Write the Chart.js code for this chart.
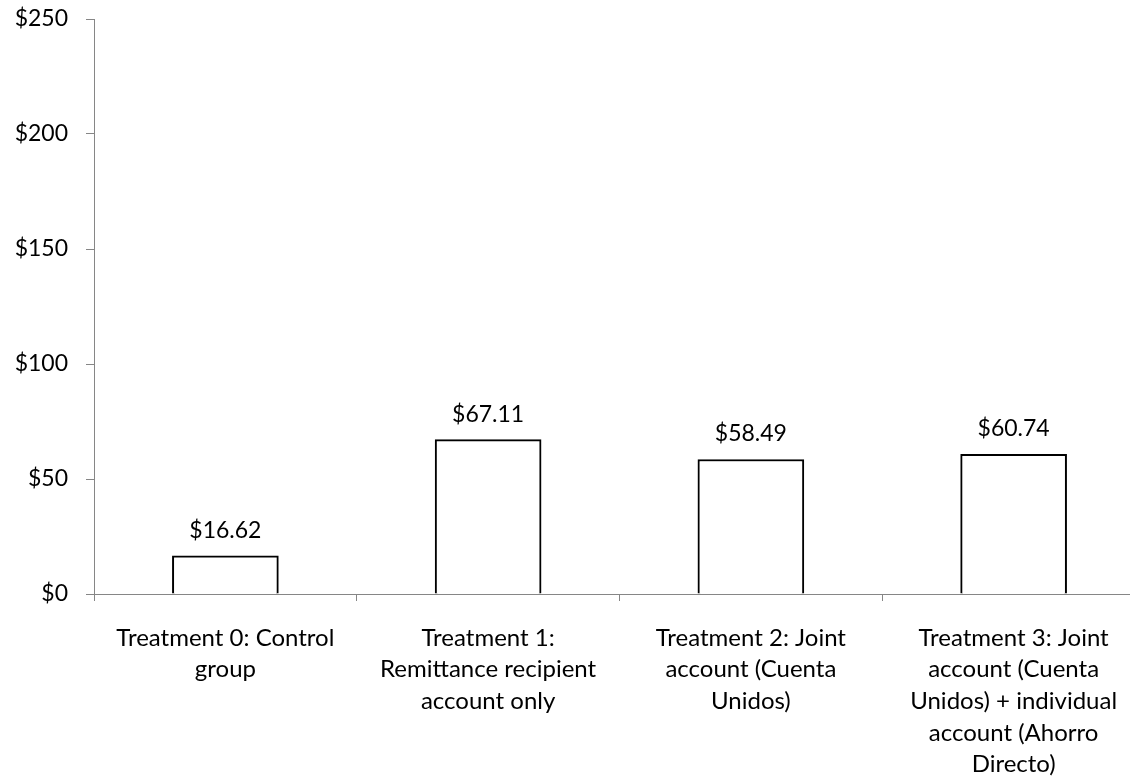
<!DOCTYPE html>
<html>
<head>
<meta charset="utf-8">
<script src="https://cdn.jsdelivr.net/npm/chart.js@4/dist/chart.umd.min.js"></script>
<style>
html,body{margin:0;padding:0;background:#fff;overflow:hidden;width:1130px;height:779px;}
#wrap{position:absolute;left:0;top:0;width:1150px;height:779px;}
</style>
</head>
<body>
<div id="wrap"><canvas id="c" width="1150" height="779"></canvas></div>
<script>
const categories = [
  ["Treatment 0: Control", "group"],
  ["Treatment 1:", "Remittance recipient", "account only"],
  ["Treatment 2: Joint", "account (Cuenta", "Unidos)"],
  ["Treatment 3: Joint", "account (Cuenta", "Unidos) + individual", "account (Ahorro", "Directo)"]
];
const values = [16.62, 67.11, 58.49, 60.74];
const valueLabels = ["$16.62", "$67.11", "$58.49", "$60.74"];
const yTicks = [0, 50, 100, 150, 200, 250];

const FONT = "Lato, 'Open Sans', sans-serif";
const AXIS = "#868686";

const valueLabelPlugin = {
  id: "valueLabels",
  afterDatasetsDraw(chart) {
    const ctx = chart.ctx;
    const meta = chart.getDatasetMeta(0);
    ctx.save();
    ctx.font = "23px " + FONT;
    ctx.fillStyle = "#000";
    ctx.textAlign = "center";
    ctx.textBaseline = "alphabetic";
    meta.data.forEach((bar, i) => {
      ctx.fillText(valueLabels[i], bar.x, bar.y - 18);
    });
    ctx.restore();
  }
};

new Chart(document.getElementById("c"), {
  type: "bar",
  data: {
    labels: categories,
    datasets: [{
      data: values,
      backgroundColor: "#ffffff",
      borderColor: "#000000",
      borderWidth: 2,
      barThickness: 106
    }]
  },
  options: {
    responsive: false,
    animation: false,
    layout: { padding: { top: 19, right: 5, left: 0, bottom: 0 } },
    plugins: { legend: { display: false }, tooltip: { enabled: false } },
    scales: {
      y: {
        min: 0, max: 250,
        afterBuildTicks(scale) { scale.ticks = yTicks.map(v => ({ value: v })); },
        afterFit(scale) { scale.width = 94; scale.paddingTop = 0; scale.paddingBottom = 0; },
        grid: { drawOnChartArea: false, drawTicks: true, tickLength: 8, color: AXIS, tickColor: AXIS },
        border: { display: true, color: AXIS, width: 1 },
        ticks: {
          padding: 18,
          color: "#000",
          font: { family: FONT, size: 23 },
          callback: v => "$" + v
        }
      },
      x: {
        afterFit(scale) { scale.height = 185; scale.paddingLeft = 0; scale.paddingRight = 0; },
        grid: { offset: true, drawOnChartArea: false, drawTicks: true, tickLength: 7, color: AXIS, tickColor: AXIS },
        border: { display: true, color: AXIS, width: 1 },
        ticks: {
          padding: 21,
          color: "#000",
          maxRotation: 0,
          autoSkip: false,
          font: { family: FONT, size: 24, lineHeight: 1.32 }
        }
      }
    }
  },
  plugins: [valueLabelPlugin]
});
</script>
</body>
</html>
